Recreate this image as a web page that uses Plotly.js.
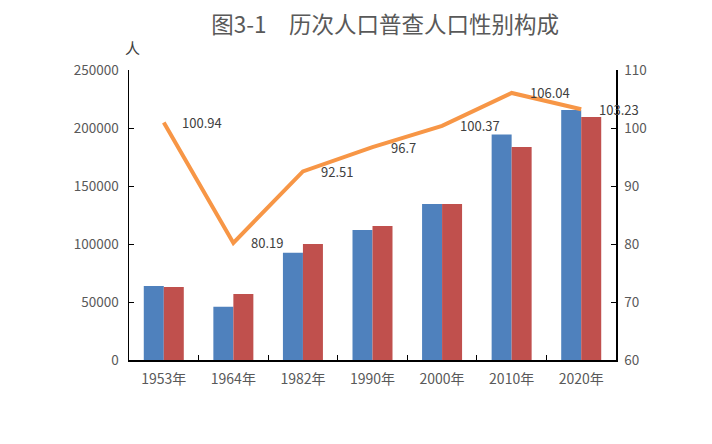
<!DOCTYPE html>
<html><head><meta charset="utf-8">
<script src="https://cdn.plot.ly/plotly-3.0.1.min.js"></script>
<style>html,body{margin:0;padding:0;background:#fff}#chart{width:712px;height:444px}</style>
</head><body><div id="chart"></div>
<script>
var categories = ['1953年','1964年','1982年','1990年','2000年','2010年','2020年'];
var male = [63800, 46000, 92500, 112000, 134500, 194500, 215500];
var female = [62900, 57000, 100000, 115500, 134500, 183600, 209500];
var sexRatio = [100.94, 80.19, 92.51, 96.7, 100.37, 106.04, 103.23];
var ratioLabels = ['100.94','80.19','92.51','96.7','100.37','106.04','103.23'];

var font = 'Noto Sans CJK SC, Noto Sans, sans-serif';
var traces = [
  {type:'bar', x:categories, y:male, name:'男', marker:{color:'#4F81BD'}, hoverinfo:'none'},
  {type:'bar', x:categories, y:female, name:'女', marker:{color:'#C0504D'}, hoverinfo:'none'},
  {type:'scatter', mode:'lines', x:categories, y:sexRatio, yaxis:'y2', name:'性别比',
   line:{color:'#F79646', width:4}, hoverinfo:'none'}
];
var annotations = categories.map(function(c,i){
  return {x:c, y:sexRatio[i], xref:'x', yref:'y2', text:ratioLabels[i], showarrow:false,
    xanchor:'left', yanchor:'middle', xshift:16, font:{family:font, size:13, color:'#404040'}};
});
annotations.push({xref:'paper', yref:'paper', x:0, y:1, xanchor:'center', yanchor:'bottom', yshift:10, xshift:3,
  text:'人', showarrow:false, font:{family:font, size:15, color:'#404040'}});
var layout = {
  width:712, height:444,
  margin:{l:129, r:96, t:70, b:84},
  paper_bgcolor:'#fff', plot_bgcolor:'#fff',
  showlegend:false,
  barmode:'group', bargap:0.425, bargroupgap:0,
  title:{text:'图3-1　历次人口普查人口性别构成', x:0.541, xanchor:'center', y:0.943, yanchor:'middle',
    font:{family:font, size:22.5, color:'#595959'}},
  xaxis:{type:'category', range:[-0.5,6.5], autorange:false, showline:true, linecolor:'#000', linewidth:1.5,
    ticks:'inside', tickson:'boundaries', ticklen:5, tickcolor:'#000', showgrid:false, zeroline:false,
    ticklabelstandoff:6, tickfont:{family:font, size:14, color:'#595959'}},
  yaxis:{range:[0,250000], dtick:50000, showline:true, linecolor:'#000', linewidth:1.5, ticks:'inside', ticklen:5,
    tickcolor:'#000', showgrid:false, zeroline:false, tickformat:'d', ticklabelstandoff:6,
    tickfont:{family:font, size:13.5, color:'#595959'}},
  yaxis2:{range:[60,110], dtick:10, overlaying:'y', side:'right', showline:true, linecolor:'#000', linewidth:1.5,
    ticks:'inside', ticklen:5, tickcolor:'#000', showgrid:false, zeroline:false, ticklabelstandoff:4,
    tickfont:{family:font, size:13.5, color:'#595959'}},
  annotations:annotations
};
Plotly.newPlot('chart', traces, layout, {displayModeBar:false, staticPlot:true});
</script></body></html>
